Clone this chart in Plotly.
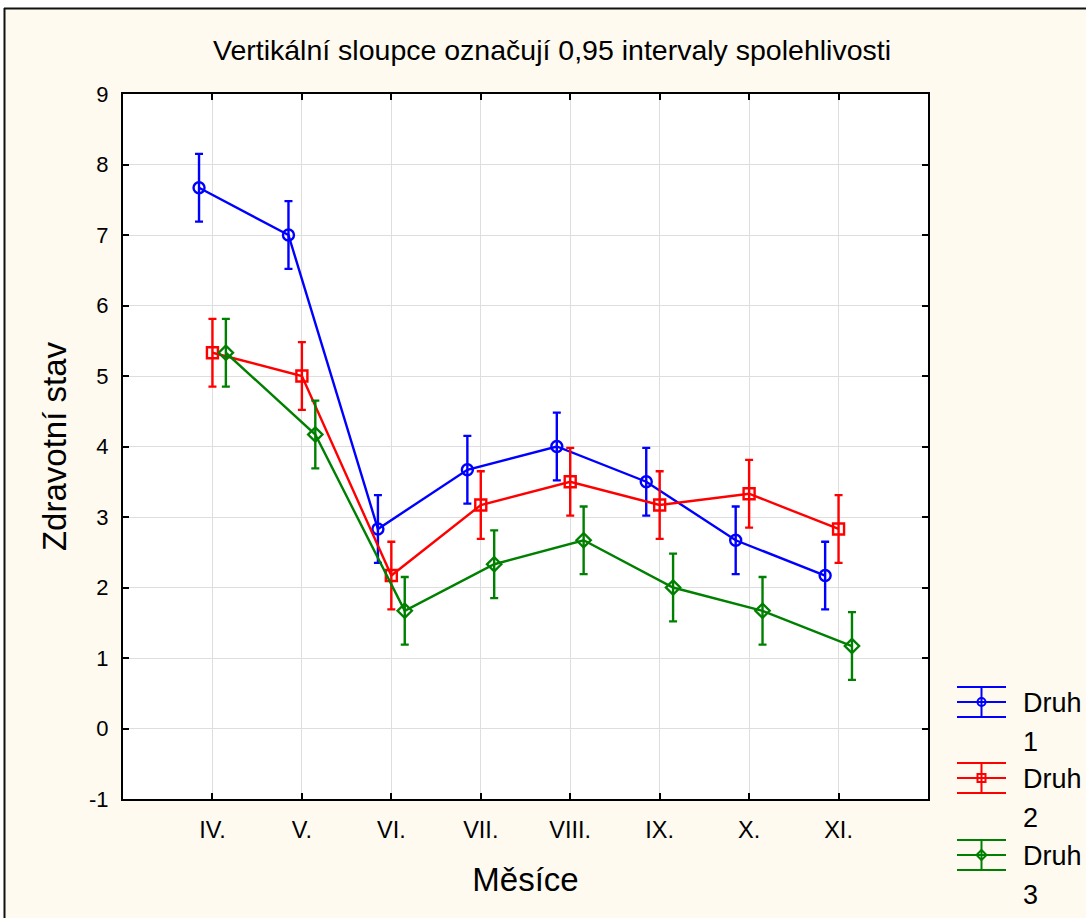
import plotly.graph_objects as go

# ---- data ----
months = ["IV.", "V.", "VI.", "VII.", "VIII.", "IX.", "X.", "XI."]
druh1 = [7.67, 7.00, 2.83, 3.67, 4.00, 3.50, 2.67, 2.17]
druh2 = [5.33, 5.00, 2.17, 3.17, 3.50, 3.17, 3.33, 2.83]
druh3 = [5.33, 4.17, 1.67, 2.33, 2.67, 2.00, 1.67, 1.17]
ci1 = [0.48, 0.48, 0.48, 0.48, 0.48, 0.48, 0.48, 0.48]
ci2 = [0.48, 0.48, 0.48, 0.48, 0.48, 0.48, 0.48, 0.48]
ci3 = [0.48, 0.48, 0.48, 0.48, 0.48, 0.48, 0.48, 0.48]
series_names = ["Druh 1", "Druh 2", "Druh 3"]
y_ticks = [-1, 0, 1, 2, 3, 4, 5, 6, 7, 8, 9]
y_ticktext = ["-1", "0", "1", "2", "3", "4", "5", "6", "7", "8", "9"]

# ---- styles ----
colors = ["#0000FF", "#FF0000", "#008000"]
symbols = ["circle-open", "square-open", "diamond-open"]
offsets = [-0.15, 0.0, 0.15]
FONT = "Liberation Sans, Arial, sans-serif"

W, H = 1086, 918
PL, PR, PT, PB = 123, 928, 94, 799


def px(x):
    return (x - PL) / (PR - PL)


def py(y):
    return (PB - y) / (PB - PT)


fig = go.Figure()
for name, vals, ci, col, sym, off in zip(series_names, [druh1, druh2, druh3], [ci1, ci2, ci3],
                                          colors, symbols, offsets):
    fig.add_trace(go.Scatter(
        x=[i + 1 + off for i in range(len(months))],
        y=vals,
        name=name,
        mode="lines+markers",
        line=dict(color=col, width=2.4),
        marker=dict(symbol=sym, size=11, color=col, line=dict(width=2.4, color=col)),
        error_y=dict(type="data", array=ci, visible=True, color=col, thickness=2.4, width=4),
        showlegend=False,
    ))

shapes = []
annotations = []
# outer frame (white strip + dark border, as in the original export)
shapes.append(dict(type="rect", xref="paper", yref="paper", x0=px(-5), x1=px(W + 5), y0=py(8), y1=py(-5),
                   fillcolor="white", line=dict(width=0), layer="below"))
shapes.append(dict(type="rect", xref="paper", yref="paper", x0=px(-5), x1=px(4), y0=py(H + 5), y1=py(-5),
                   fillcolor="white", line=dict(width=0), layer="below"))
shapes.append(dict(type="line", xref="paper", yref="paper", x0=px(4), x1=px(W + 5), y0=py(8.5), y1=py(8.5),
                   line=dict(color="#111111", width=2)))
shapes.append(dict(type="line", xref="paper", yref="paper", x0=px(4.5), x1=px(4.5), y0=py(8), y1=py(H + 5),
                   line=dict(color="#111111", width=2)))

# custom legend mimicking error-bar glyphs
leg_mid = [702, 778, 855]
sx0, sx1, sxc = 957, 1006, 981.5
for k, (name, col) in enumerate(zip(series_names, colors)):
    ym = leg_mid[k]
    for dy in (-15, 0, 15):
        shapes.append(dict(type="line", xref="paper", yref="paper", x0=px(sx0), x1=px(sx1),
                           y0=py(ym + dy), y1=py(ym + dy), line=dict(color=col, width=2)))
    shapes.append(dict(type="line", xref="paper", yref="paper", x0=px(sxc), x1=px(sxc),
                       y0=py(ym - 15), y1=py(ym + 15), line=dict(color=col, width=2)))
    r = 4
    if k == 0:
        shapes.append(dict(type="circle", xref="paper", yref="paper", x0=px(sxc - r), x1=px(sxc + r),
                           y0=py(ym + r), y1=py(ym - r), line=dict(color=col, width=2)))
    elif k == 1:
        shapes.append(dict(type="rect", xref="paper", yref="paper", x0=px(sxc - r), x1=px(sxc + r),
                           y0=py(ym + r), y1=py(ym - r), line=dict(color=col, width=2)))
    else:
        rr = 5
        path = "M {} {} L {} {} L {} {} L {} {} Z".format(
            px(sxc - rr), py(ym), px(sxc), py(ym - rr), px(sxc + rr), py(ym), px(sxc), py(ym + rr))
        shapes.append(dict(type="path", xref="paper", yref="paper", path=path, line=dict(color=col, width=2)))
    word, num = name.split(" ")
    annotations.append(dict(text=word, xref="paper", yref="paper", x=px(1021), y=py(ym + 1),
                            xanchor="left", yanchor="middle", showarrow=False,
                            font=dict(family=FONT, size=27, color="black")))
    annotations.append(dict(text=num, xref="paper", yref="paper", x=px(1021), y=py(ym + 40),
                            xanchor="left", yanchor="middle", showarrow=False,
                            font=dict(family=FONT, size=27, color="black")))

fig.update_layout(
    width=W, height=H,
    margin=dict(l=PL, r=W - PR, t=PT, b=H - PB, pad=0),
    paper_bgcolor="#FFFAF0",
    plot_bgcolor="white",
    font=dict(family=FONT, color="black"),
    title=dict(text="Vertikální sloupce označují 0,95 intervaly spolehlivosti",
               x=552 / W, xref="container", xanchor="center",
               y=1 - 50 / H, yref="container", yanchor="middle",
               font=dict(family=FONT, size=28.5, color="black")),
    xaxis=dict(range=[0, 9], tickmode="array", tickvals=[i + 1 for i in range(len(months))], ticktext=months,
               showgrid=True, gridcolor="#DEDEDE", gridwidth=1, zeroline=False,
               showline=True, linecolor="black", linewidth=2, mirror="ticks",
               ticks="inside", ticklen=6, tickwidth=2, tickcolor="black",
               tickfont=dict(size=23.5), ticklabelstandoff=9,
               title=dict(text="Měsíce", font=dict(size=33), standoff=26)),
    yaxis=dict(range=[-1, 9], tickmode="array", tickvals=y_ticks, ticktext=y_ticktext,
               showgrid=True, gridcolor="#DEDEDE", gridwidth=1, zeroline=False,
               showline=True, linecolor="black", linewidth=2, mirror="ticks",
               ticks="inside", ticklen=6, tickwidth=2, tickcolor="black",
               tickfont=dict(size=22), ticklabelstandoff=8,
               title=dict(text="Zdravotní stav", font=dict(size=33), standoff=12)),
    shapes=shapes,
    annotations=annotations,
    showlegend=False,
)

fig.write_html("out.html")
